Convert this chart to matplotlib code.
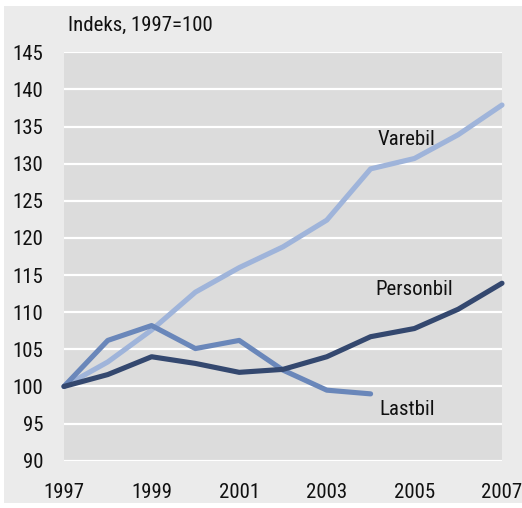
import matplotlib
matplotlib.use("Agg")
import matplotlib.pyplot as plt
from matplotlib.patches import Rectangle
from matplotlib import font_manager

years = [1997, 1998, 1999, 2000, 2001, 2002, 2003, 2004, 2005, 2006, 2007]
varebil = [100, 103.3, 107.6, 112.7, 116.0, 118.8, 122.4, 129.3, 130.7, 133.9, 137.9]
personbil = [100, 101.6, 104.0, 103.1, 101.9, 102.3, 104.0, 106.7, 107.8, 110.4, 113.9]
lastbil_years = [1997, 1998, 1999, 2000, 2001, 2002, 2003, 2004]
lastbil = [100, 106.2, 108.2, 105.1, 106.2, 102.2, 99.5, 99.0]
xticks = [1997, 1999, 2001, 2003, 2005, 2007]
yticks = [90, 95, 100, 105, 110, 115, 120, 125, 130, 135, 140, 145]

names = {f.name for f in font_manager.fontManager.ttflist}
fam = ['Liberation Sans Narrow'] if 'Liberation Sans Narrow' in names else ['Roboto Condensed'] if 'Roboto Condensed' in names else ['DejaVu Sans']
plt.rcParams['font.family'] = fam + ['DejaVu Sans']

fs = 15
fig = plt.figure(figsize=(5.22, 5.08), dpi=100)
fig.patch.set_facecolor('white')
fig.add_artist(Rectangle((4/522, 5/508), 518/522, 497/508, transform=fig.transFigure,
                         facecolor='#ebebeb', edgecolor='none', zorder=0))

ax = fig.add_axes([64/522, 1-460.7/508, 438/522, 408.4/508])
ax.set_facecolor('#dcdcdc')
ax.set_xlim(1997, 2007)
ax.set_ylim(90, 145)
ax.set_yticks(yticks)
ax.set_xticks(xticks)
for s in ax.spines.values():
    s.set_visible(False)
ax.tick_params(length=0, labelsize=fs, colors='#111111')
ax.tick_params(axis='y', pad=15)
ax.tick_params(axis='x', pad=16)
ax.grid(axis='y', color='white', linewidth=1.6, zorder=1)
ax.set_axisbelow(True)

lw = 3.7
ax.plot(years, varebil, color='#9fb4da', lw=lw, solid_capstyle='round', solid_joinstyle='round', zorder=3, clip_on=False)
ax.plot(lastbil_years, lastbil, color='#6a87ba', lw=lw, solid_capstyle='round', solid_joinstyle='round', zorder=4, clip_on=False)
ax.plot(years, personbil, color='#34486f', lw=lw, solid_capstyle='round', solid_joinstyle='round', zorder=5, clip_on=False)

ax.text(2004.15, 133.2, 'Varebil', fontsize=fs, color='#111111', ha='left', va='center')
ax.text(2004.1, 113.0, 'Personbil', fontsize=fs, color='#111111', ha='left', va='center')
ax.text(2004.2, 96.9, 'Lastbil', fontsize=fs, color='#111111', ha='left', va='center')

fig.text(68/522, 1-25/508, 'Indeks, 1997=100', fontsize=fs, color='#111111', ha='left', va='center')

fig.savefig('out.png', dpi=100, facecolor=fig.get_facecolor())
